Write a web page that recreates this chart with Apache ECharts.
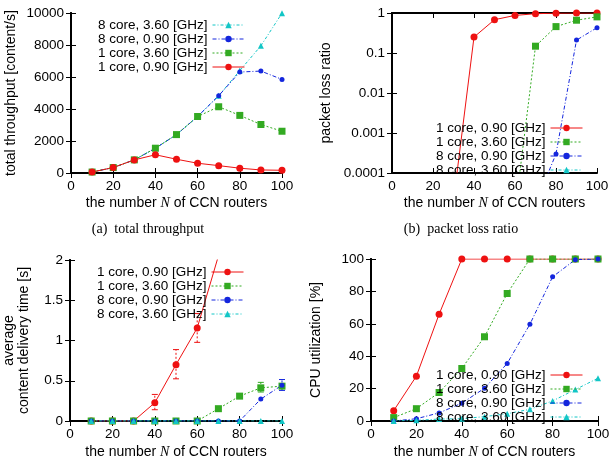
<!DOCTYPE html>
<html>
<head>
<meta charset="utf-8">
<script src="https://cdn.jsdelivr.net/npm/echarts@6/dist/echarts.min.js"></script>
<style>
  html, body { margin: 0; padding: 0; background: #fff; }
  #main { width: 613px; height: 470px; }
</style>
</head>
<body>
<div id="main"></div>
<script>
// number of CCN routers
var routers = [10, 20, 30, 40, 50, 60, 70, 80, 90, 100];

// (a) total throughput [content/s]
var tpRed   = [60, 340, 820, 1140, 860, 610, 460, 300, 190, 170];
var tpGreen = [60, 340, 820, 1550, 2400, 3530, 4140, 3600, 3030, 2610];
var tpBlue  = [60, 340, 820, 1550, 2400, 3530, 4830, 6310, 6370, 5850];
var tpCyan  = [60, 340, 820, 1550, 2400, 3530, 4830, 6400, 7950, 9990];

// (b) packet loss ratio (null = zero, not drawable on log axis)
var lossRed   = [null, null, 0.00002, 0.25, 0.68, 0.87, 0.96, 0.99, 1, 1];
var lossGreen = [null, null, null, null, null, 0.000011, 0.148, 0.457, 0.66, 0.8];
var lossBlue  = [null, null, null, null, null, null, 0.000017, 0.0003, 0.21, 0.43];
var lossCyan  = [null, null, null, null, null, null, null, null, null, null];
var lossTicks = ['0.0001', '0.001', '0.01', '0.1', '1'];

// (c) average content delivery time [s]
var delayRed   = [0, 0, 0, 0.227, 0.70, 1.155, 2.05, null, null, null];
var delayGreen = [0, 0, 0, 0, 0, 0, 0.153, 0.309, 0.412, 0.433];
var delayBlue  = [0, 0, 0, 0, 0, 0, 0, 0, 0.272, 0.445];
var delayCyan  = [0, 0, 0, 0, 0, 0, 0, 0, 0, 0];
// error bars [x, low, high]
var delayRedErr   = [[40, 0.14, 0.33], [50, 0.524, 0.887], [60, 0.977, 1.336]];
var delayGreenErr = [[90, 0.36, 0.48]];
var delayBlueErr  = [[100, 0.38, 0.515]];

// (d) CPU utilization [%]
var cpuRed   = [6.4, 27.7, 65.9, 100, 100, 100, 100, 100, 100, 100];
var cpuGreen = [2.1, 7.6, 17.6, 32.4, 52, 78.7, 100, 100, 100, 100];
var cpuBlue  = [0, 1.4, 5, 11, 20.2, 35.5, 59.7, 89, 99.6, 100];
var cpuCyan  = [0, 0.4, 1.2, 1.4, 2.7, 4.5, 7.2, 12.4, 19.4, 26.4];

var names = ['1 core, 0.90 [GHz]', '1 core, 3.60 [GHz]', '8 core, 0.90 [GHz]', '8 core, 3.60 [GHz]'];
var colors = ['#ee1111', '#33aa22', '#1426dd', '#12c6c6'];
var symbols = ['circle', 'rect', 'circle', 'triangle'];
var symbolSizes = [7, 7, 5, 6];
var dashes = ['solid', [2, 2], [4, 2, 1, 2], [3, 2, 1, 2]];

var FONT = '"Liberation Sans", Arial, sans-serif';
var SERIF = '"Liberation Serif", "DejaVu Serif", serif';

var chart = echarts.init(document.getElementById('main'));

var grids = [
  { left: 71, top: 13, width: 211, height: 160 },
  { left: 392, top: 13, width: 205, height: 160 },
  { left: 70, top: 260, width: 212, height: 161 },
  { left: 371, top: 259, width: 227, height: 162 }
];

// y axis setup per panel
var yConf = [
  { type: 'value', min: 0, max: 10000, interval: 2000, name: 'total throughput [content/s]', nameGap: 52 },
  { type: 'log', min: 0.0001, max: 1, name: 'packet loss ratio', nameGap: 58 },
  { type: 'value', min: 0, max: 2, interval: 0.5, name: 'average\ncontent delivery time [s]', nameGap: 38 },
  { type: 'value', min: 0, max: 100, interval: 20, name: 'CPU utilization [%]', nameGap: 47 }
];

var xAxes = [], yAxes = [];
grids.forEach(function (g, i) {
  var lineSt = { show: true, lineStyle: { color: '#000', width: 2 } };
  var tickSt = { show: true, inside: true, length: 5, lineStyle: { color: '#000', width: 1 } };
  xAxes.push({
    gridIndex: i, type: 'value', min: 0, max: 100, interval: 20, position: 'bottom',
    axisLine: lineSt, axisTick: tickSt, splitLine: { show: false },
    axisLabel: { color: '#000', fontSize: 13.5, fontFamily: FONT, margin: 6 },
    name: 'the number {i|N} of CCN routers', nameLocation: 'middle', nameGap: i < 2 ? 23 : 24,
    nameTextStyle: { color: '#000', fontSize: 14, fontFamily: FONT,
      rich: { i: { fontStyle: 'italic', fontFamily: SERIF, fontSize: 14, color: '#000' } } }
  });
  xAxes.push({
    gridIndex: i, type: 'value', min: 0, max: 100, interval: 20, position: 'top',
    axisLine: lineSt, axisTick: tickSt, splitLine: { show: false }, axisLabel: { show: false }
  });
  var c = yConf[i];
  var yl = {
    gridIndex: i, type: c.type, min: c.min, max: c.max, position: 'left',
    axisLine: lineSt, axisTick: tickSt, splitLine: { show: false },
    axisLabel: { color: '#000', fontSize: 13.5, fontFamily: FONT, margin: 7,
      formatter: function (v) { return String(v); } },
    name: c.name, nameLocation: 'middle', nameGap: c.nameGap, nameRotate: 90,
    nameTextStyle: { color: '#000', fontSize: 14, fontFamily: FONT, lineHeight: 15 }
  };
  var yr = {
    gridIndex: i, type: c.type, min: c.min, max: c.max, position: 'right',
    axisLine: lineSt, axisTick: tickSt, splitLine: { show: false }, axisLabel: { show: false }
  };
  if (c.type === 'log') {
    yl.logBase = 10; yr.logBase = 10;
    yl.axisLabel.formatter = function (v) {
      return lossTicks[Math.round(Math.log10(v)) + 4];
    };
  } else {
    yl.interval = c.interval; yr.interval = c.interval;
  }
  yAxes.push(yl, yr);
});

function pairs(ys) {
  return routers.map(function (x, i) { return [x, ys[i]]; });
}

var series = [];
function addLine(panel, k, ys) {
  series.push({
    name: names[k], type: 'line',
    xAxisIndex: panel * 2, yAxisIndex: panel * 2,
    data: pairs(ys),
    symbol: symbols[k], symbolSize: symbolSizes[k],
    color: colors[k],
    lineStyle: { color: colors[k], width: 1, type: dashes[k] },
    itemStyle: { color: colors[k] },
    emphasis: { disabled: true },
    animation: false
  });
}
function addErr(panel, k, rows) {
  series.push({
    type: 'custom', name: 'err' + panel + k,
    xAxisIndex: panel * 2, yAxisIndex: panel * 2,
    data: rows, encode: { x: 0, y: [1, 2] },
    animation: false, silent: true,
    renderItem: function (params, api) {
      var lo = api.coord([api.value(0), api.value(1)]);
      var hi = api.coord([api.value(0), api.value(2)]);
      var st = { stroke: colors[k], lineWidth: 1, lineDash: [2, 2] };
      return { type: 'group', children: [
        { type: 'line', shape: { x1: lo[0], y1: lo[1], x2: hi[0], y2: hi[1] }, style: st },
        { type: 'line', shape: { x1: lo[0] - 3, y1: lo[1], x2: lo[0] + 3, y2: lo[1] }, style: { stroke: colors[k], lineWidth: 1 } },
        { type: 'line', shape: { x1: hi[0] - 3, y1: hi[1], x2: hi[0] + 3, y2: hi[1] }, style: { stroke: colors[k], lineWidth: 1 } }
      ] };
    }
  });
}

// (a): drawn cyan first, red on top
addLine(0, 3, tpCyan);
addLine(0, 2, tpBlue);
addLine(0, 1, tpGreen);
addLine(0, 0, tpRed);
// (b)
addLine(1, 0, lossRed);
addLine(1, 1, lossGreen);
addLine(1, 2, lossBlue);
addLine(1, 3, lossCyan);
// (c)
addErr(2, 0, delayRedErr);
addErr(2, 1, delayGreenErr);
addErr(2, 2, delayBlueErr);
addLine(2, 0, delayRed);
addLine(2, 1, delayGreen);
addLine(2, 2, delayBlue);
addLine(2, 3, delayCyan);
// (d)
addLine(3, 0, cpuRed);
addLine(3, 1, cpuGreen);
addLine(3, 2, cpuBlue);
addLine(3, 3, cpuCyan);

function legendAt(order, right, top) {
  return {
    data: order, orient: 'vertical', align: 'right',
    right: right, top: top, padding: 0, itemGap: 0,
    itemWidth: 32, itemHeight: 8, selectedMode: false,
    lineStyle: { width: 1 },
    textStyle: { color: '#000', fontSize: 13.5, fontFamily: FONT, lineHeight: 12 }
  };
}

var option = {
  animation: false,
  grid: grids,
  xAxis: xAxes,
  yAxis: yAxes,
  series: series,
  legend: [
    legendAt([names[3], names[2], names[1], names[0]], 368, 18),
    legendAt(names, 30, 121),
    legendAt(names, 369, 265),
    legendAt(names, 30, 368)
  ],
  graphic: [
    { type: 'text', x: 148, y: 229, style: { text: '(a)  total throughput', font: '14px ' + SERIF, fill: '#000', align: 'center', verticalAlign: 'middle' } },
    { type: 'text', x: 461, y: 229, style: { text: '(b)  packet loss ratio', font: '14px ' + SERIF, fill: '#000', align: 'center', verticalAlign: 'middle' } }
  ]
};

chart.setOption(option);
</script>
</body>
</html>
